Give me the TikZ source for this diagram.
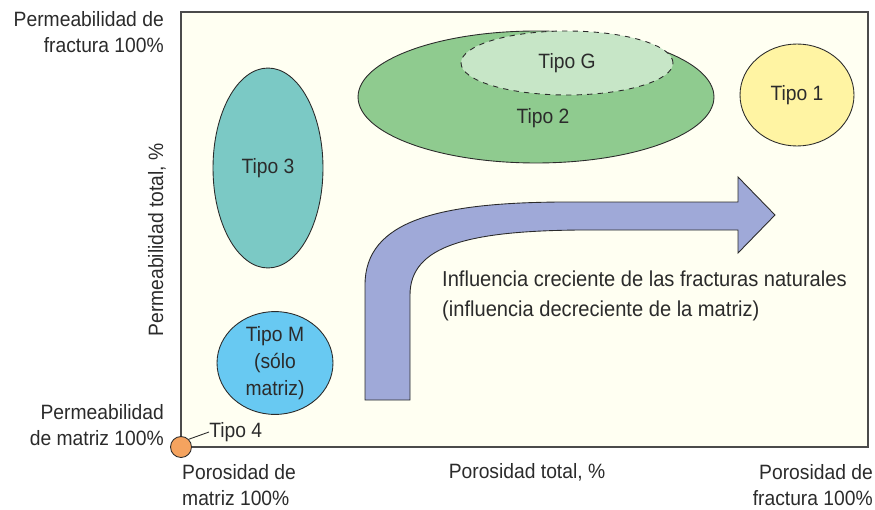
\documentclass[tikz,border=0pt]{standalone}
\usepackage{fontspec}
\setmainfont{Liberation Sans}[FakeStretch=0.93]
\usepackage{tikz}
\usetikzlibrary{shapes.geometric,positioning}

\definecolor{marco}{HTML}{FFFFF2}
\definecolor{tinta}{HTML}{2B2B2B}
\definecolor{naranja}{HTML}{F5A35F}
\definecolor{turquesa}{HTML}{7BC9C5}
\definecolor{celeste}{HTML}{68C9F2}
\definecolor{verde}{HTML}{8FCB8F}
\definecolor{verdeclaro}{HTML}{C7E6C7}
\definecolor{amarillo}{HTML}{FFF4A3}
\definecolor{lila}{HTML}{9FA9D8}

\begin{document}
\begin{tikzpicture}[x=0.02cm,y=-0.02cm,
    every node/.style={text=tinta,font=\fontsize{11.8}{15.2}\selectfont},
    zona/.style={ellipse,draw=tinta,line width=0.5pt,inner sep=0pt,align=center},
    rotulo/.style={align=right,anchor=east},
    rotuloizq/.style={align=left,anchor=west}]
  \useasboundingbox (0,0) rectangle (875,510);

  \draw[fill=marco,draw=tinta!85,line width=0.9pt] (181,12) rectangle (868,447);

  \node[zona,fill=turquesa,minimum width=2.2cm,minimum height=4cm] (t3) at (268,168) {Tipo 3};
  \node[zona,fill=celeste,minimum width=2.32cm,minimum height=2cm] (tm) at (275,363) {Tipo M\\(sólo\\matriz)};
  \node[zona,fill=verde,minimum width=7.12cm,minimum height=2.64cm] (t2) at (536,97) {};
  \node[zona,fill=verdeclaro,dashed,minimum width=4.24cm,minimum height=1.28cm] (tg) at (567,63) {\raisebox{-2pt}{Tipo G}};
  \node (t2txt) at (543,118) {Tipo 2};
  \node[zona,fill=amarillo,minimum width=2.28cm,minimum height=2.04cm] (t1) at (797,95) {Tipo 1};

  \draw[fill=lila,draw=tinta,line width=0.5pt]
    (365,400) -- (365,285)
    .. controls (365,220) and (440,203) .. (560,202)
    -- (738,202) -- (738,177) -- (775,215) -- (738,253) -- (738,230)
    -- (580,230)
    .. controls (470,231) and (410,245) .. (410,295)
    -- (410,400) -- cycle;

  \node[rotuloizq,font=\fontsize{12.3}{17}\selectfont] (infl) at (436,296) {Influencia creciente de las fracturas naturales\\(influencia decreciente de la matriz)};

  \node[circle,fill=naranja,draw=tinta,line width=0.5pt,minimum size=0.42cm,inner sep=0pt] (t4) at (181,447) {};
  \node[rotuloizq,inner sep=0pt] (t4txt) at (209,432) {Tipo 4};
  \draw[tinta,line width=0.5pt] (t4.north east) -- (t4txt.west);

  \node[rotulo] (permfrac) at (170,32) {Permeabilidad de\\fractura 100\%};
  \node[rotulo] (permmat) at (170,425) {Permeabilidad\\de matriz 100\%};
  \node[rotate=90] (permtot) at (157,240) {Permeabilidad total, \%};
  \node[rotuloizq] (pormat) at (176,485) {Porosidad de\\matriz 100\%};
  \node (portot) at (527,472) {Porosidad total, \%};
  \node[rotulo] (porfrac) at (879,485) {Porosidad de\\fractura 100\%};
\end{tikzpicture}
\end{document}
